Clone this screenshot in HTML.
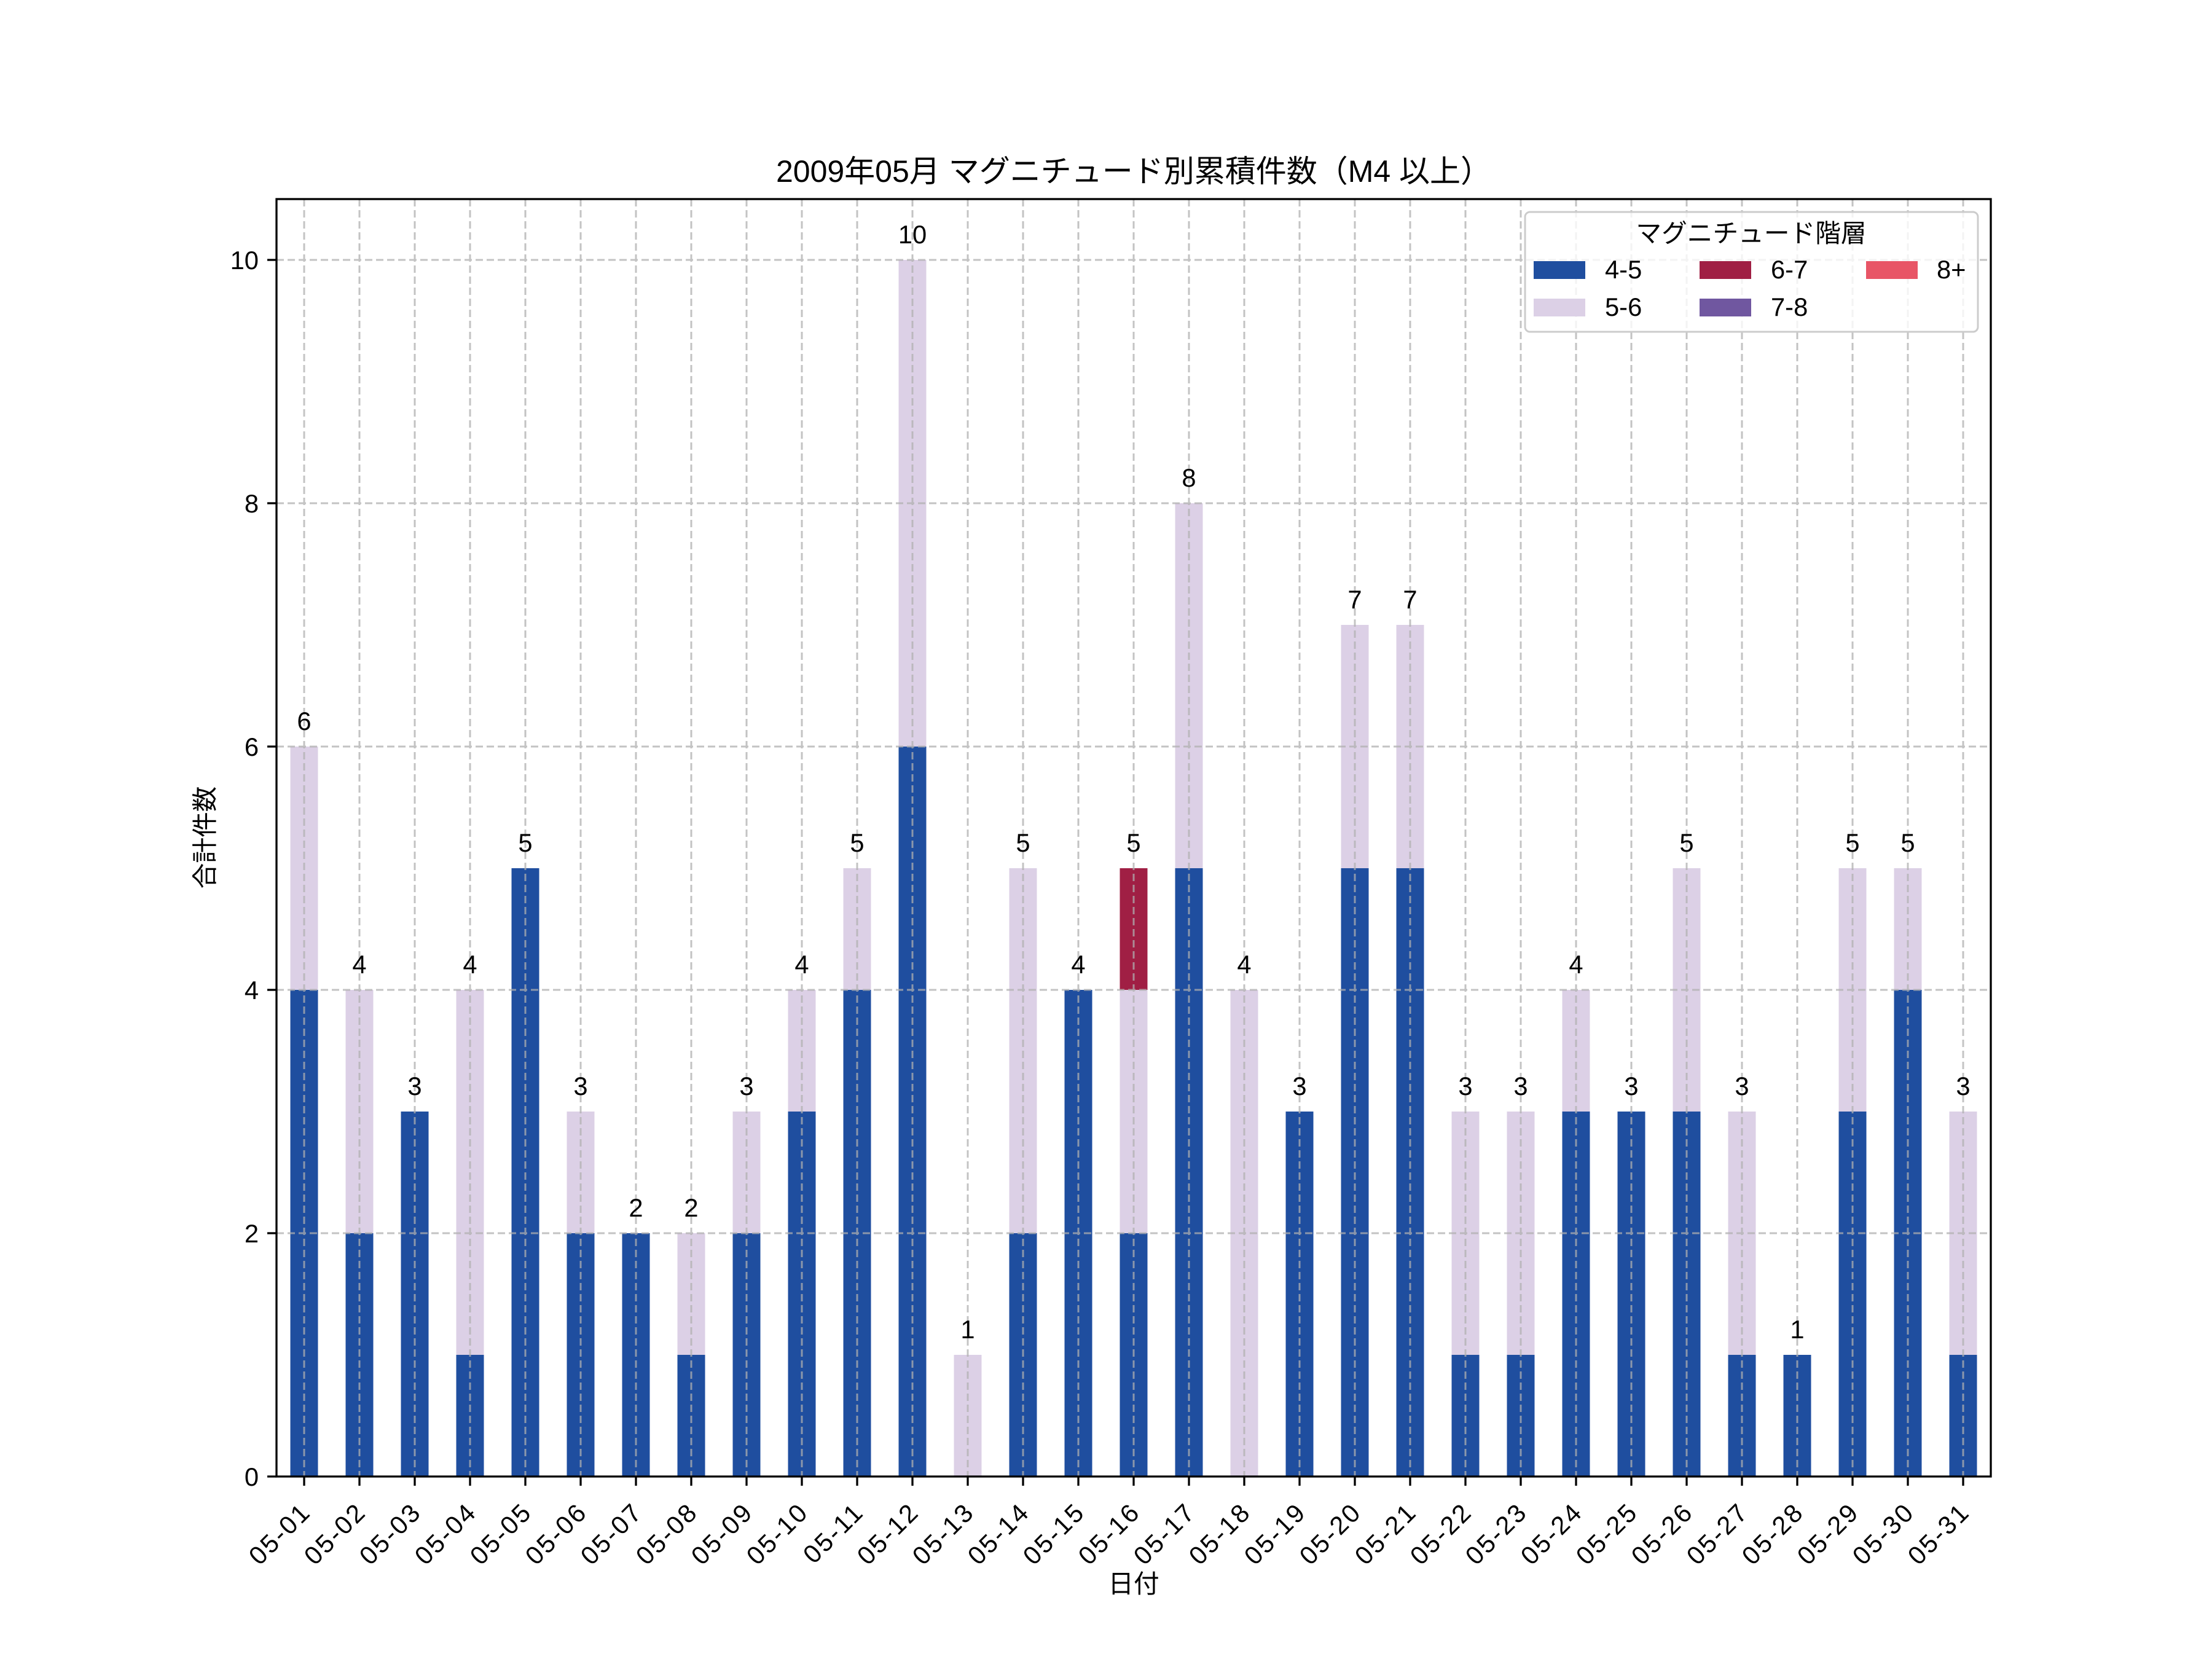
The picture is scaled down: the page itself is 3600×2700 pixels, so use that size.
<!DOCTYPE html>
<html><head><meta charset="utf-8"><style>
html,body{margin:0;padding:0;background:#fff}
svg{display:block}
text{font-family:"Liberation Sans","Noto Sans CJK JP",sans-serif;fill:#000}
</style></head><body>
<svg width="3600" height="2700" viewBox="0 0 3600 2700" xmlns="http://www.w3.org/2000/svg">
<rect width="3600" height="2700" fill="#fff"/>
<g id="bars"></g>
<g id="grid" stroke="#b0b0b0" stroke-width="3" stroke-dasharray="12,6" opacity="0.75" fill="none"></g>
<rect x="450" y="324" width="2790" height="2079" fill="none" stroke="#000" stroke-width="3.3"/>
<g id="ticks" stroke="#000" stroke-width="3.3"></g>
<g id="labels" font-size="41.7"></g>
<text x="1845" y="296" font-size="50" text-anchor="middle">2009年05月 マグニチュード別累積件数（M4 以上）</text>
<text x="1845" y="2592" font-size="41.7" text-anchor="middle">日付</text>
<text transform="translate(348,1363) rotate(-90)" font-size="41.7" text-anchor="middle">合計件数</text>
<g id="legend">
<rect x="2482" y="345" width="737" height="195" rx="8" fill="#fff" fill-opacity="0.8" stroke="#ccc" stroke-width="3"/>
<text x="2850" y="394" font-size="41.7" text-anchor="middle">マグニチュード階層</text>
<rect x="2496" y="425" width="84" height="29" fill="#1f4e9f"/><text x="2612" y="453" font-size="41.7">4-5</text>
<rect x="2496" y="486" width="84" height="29" fill="#dcd0e6"/><text x="2612" y="514" font-size="41.7">5-6</text>
<rect x="2766" y="425" width="84" height="29" fill="#a01f44"/><text x="2882" y="453" font-size="41.7">6-7</text>
<rect x="2766" y="486" width="84" height="29" fill="#7057a0"/><text x="2882" y="514" font-size="41.7">7-8</text>
<rect x="3037" y="425" width="84" height="29" fill="#e85566"/><text x="3152" y="453" font-size="41.7">8+</text>
</g>
</svg>
<script>
(function(){
var NS="http://www.w3.org/2000/svg";
var d=[[4,2,0],[2,2,0],[3,0,0],[1,3,0],[5,0,0],[2,1,0],[2,0,0],[1,1,0],[2,1,0],[3,1,0],[4,1,0],[6,4,0],[0,1,0],[2,3,0],[4,0,0],[2,2,1],[5,3,0],[0,4,0],[3,0,0],[5,2,0],[5,2,0],[1,2,0],[1,2,0],[3,1,0],[3,0,0],[3,2,0],[1,2,0],[1,0,0],[3,2,0],[4,1,0],[1,2,0]];
var cols=["#1f4e9f","#dcd0e6","#a01f44"];
function el(t,a,p,txt){var e=document.createElementNS(NS,t);for(var k in a)e.setAttribute(k,a[k]);if(txt!=null)e.textContent=txt;p.appendChild(e);return e;}
var bars=document.getElementById('bars'),grid=document.getElementById('grid'),ticks=document.getElementById('ticks'),lab=document.getElementById('labels');
function Y(v){return 2403-198*v;}
for(var i=0;i<31;i++){
 var x=495+90*i,acc=0;
 for(var j=0;j<3;j++){var v=d[i][j];if(v>0){el('rect',{x:x-22.5,y:Y(acc+v),width:45,height:198*v,fill:cols[j]},bars);}acc+=v;}
 el('text',{x:x,y:Y(acc)-27,'text-anchor':'middle','font-size':'41.7'},lab,String(acc));
 el('line',{x1:x,y1:324,x2:x,y2:2403},grid);
 el('line',{x1:x,y1:2403,x2:x,y2:2418},ticks);
 var s=(i+1<10?'0':'')+(i+1);
 el('text',{transform:'translate('+(x-8)+',2442) rotate(-45)','text-anchor':'end',y:30,'font-size':'41.7','letter-spacing':'3'},lab,'05-'+s);
}
for(var v=0;v<=10;v+=2){
 var y=Y(v);
 el('line',{x1:450,y1:y,x2:3240,y2:y},grid);
 el('line',{x1:435,y1:y,x2:450,y2:y},ticks);
 el('text',{x:421,y:y+15,'text-anchor':'end','font-size':'41.7'},lab,String(v));
}
})();
</script>
</body></html>
